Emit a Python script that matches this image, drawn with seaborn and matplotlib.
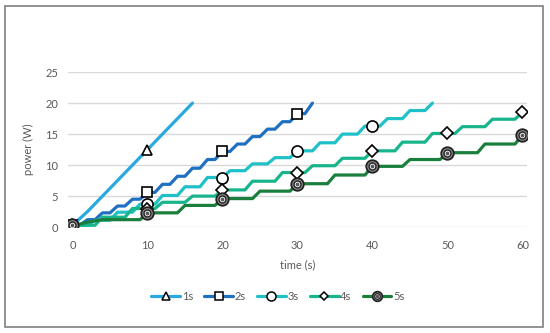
import matplotlib
matplotlib.use("Agg")
import matplotlib.pyplot as plt
import seaborn as sns
import pandas as pd
from matplotlib.lines import Line2D
from matplotlib.legend_handler import HandlerTuple
from matplotlib.patches import Rectangle

# power (W) read per second from the chart, one list per step interval
p_1s = [0.3, 1.4, 2.5, 3.75, 5.0, 6.25, 7.5, 8.75, 10.0, 11.25, 12.5,
        13.75, 15.0, 16.25, 17.5, 18.75, 20.0]
p_2s = [0.3, 0.3, 1.2, 1.2, 2.3, 2.3, 3.4, 3.4, 4.5, 4.5, 5.6, 5.6,
        6.9, 6.9, 8.2, 8.2, 9.5, 9.5, 10.9, 10.9, 12.2, 12.2, 13.4, 13.4,
        14.6, 14.6, 15.8, 15.8, 17.0, 17.0, 18.3, 18.3, 20.0]
p_3s = [0.3, 0.3, 0.3, 1.1, 1.1, 1.1, 2.4, 2.4, 2.4, 3.7, 3.7, 3.7,
        5.1, 5.1, 5.1, 6.5, 6.5, 6.5, 8.0, 8.0, 8.0, 9.1, 9.1, 9.1,
        10.2, 10.2, 10.2, 11.2, 11.2, 11.2, 12.3, 12.3, 12.3, 13.6, 13.6, 13.6,
        15.0, 15.0, 15.0, 16.3, 16.3, 16.3, 17.5, 17.5, 17.5, 18.8, 18.8, 18.8,
        20.0]
p_4s = [0.3, 0.3, 0.3, 0.3, 1.6, 1.6, 1.6, 1.6, 3.0, 3.0, 3.0, 3.0,
        4.0, 4.0, 4.0, 4.0, 5.0, 5.0, 5.0, 5.0, 6.0, 6.0, 6.0, 6.0,
        7.4, 7.4, 7.4, 7.4, 8.8, 8.8, 8.8, 8.8, 9.9, 9.9, 9.9, 9.9,
        11.1, 11.1, 11.1, 11.1, 12.3, 12.3, 12.3, 12.3, 13.7, 13.7, 13.7, 13.7,
        15.1, 15.1, 15.1, 15.1, 16.2, 16.2, 16.2, 16.2, 17.4, 17.4, 17.4, 17.4,
        18.5]
p_5s = [0.3, 0.5, 0.8, 1.0, 1.2, 1.2, 1.2, 1.2, 1.2, 1.2, 2.3, 2.3, 2.3, 2.3, 2.3,
        3.5, 3.5, 3.5, 3.5, 3.5, 4.6, 4.6, 4.6, 4.6, 4.6,
        5.8, 5.8, 5.8, 5.8, 5.8, 7.0, 7.0, 7.0, 7.0, 7.0,
        8.4, 8.4, 8.4, 8.4, 8.4, 9.8, 9.8, 9.8, 9.8, 9.8,
        10.9, 10.9, 10.9, 10.9, 10.9, 12.0, 12.0, 12.0, 12.0, 12.0,
        13.4, 13.4, 13.4, 13.4, 13.4, 14.8]

labels = ["1s", "2s", "3s", "4s", "5s"]
series = [p_1s, p_2s, p_3s, p_4s, p_5s]
colors = ["#2aa8e0", "#2070c2", "#1fc0c8", "#18b48c", "#1a7f3c"]
markers = ["^", "s", "o", "D", "o"]
msizes = [7, 7, 8, 6, 9]

rows = []
for lab, vals in zip(labels, series):
    for t, v in enumerate(vals):
        rows.append({"time": t, "power": v, "series": lab})
df = pd.DataFrame(rows)

sns.set_style("white")
plt.rcParams["font.family"] = ["Lato", "DejaVu Sans"]

fig = plt.figure(figsize=(5.5, 3.33), dpi=100)
ax = fig.add_axes([0.1236, 0.318, 0.8345, 0.4655])

handles = []
for lab, col, mk, ms in zip(labels, colors, markers, msizes):
    d = df[df["series"] == lab]
    if lab == "5s":
        sns.lineplot(data=d, x="time", y="power", ax=ax, color=col, lw=2.3,
                     marker="o", markevery=10, ms=ms, mfc="#8a8a8a", mec="#222222",
                     mew=1.3, errorbar=None, zorder=3)
        sns.lineplot(data=d, x="time", y="power", ax=ax, lw=0, marker="o",
                     markevery=10, ms=5, mfc="white", mec="#222222", mew=1.0,
                     errorbar=None, zorder=4)
        sns.lineplot(data=d, x="time", y="power", ax=ax, lw=0, marker="o",
                     markevery=10, ms=2, mfc="#555555", mec="#555555",
                     errorbar=None, zorder=5)
        h = (Line2D([], [], color=col, lw=2.3, marker="o", ms=7, mfc="#8a8a8a",
                    mec="#222222", mew=1.2),
             Line2D([], [], lw=0, marker="o", ms=4, mfc="white", mec="#222222", mew=0.9),
             Line2D([], [], lw=0, marker="o", ms=1.5, mfc="#555555", mec="#555555"))
    else:
        sns.lineplot(data=d, x="time", y="power", ax=ax, color=col, lw=2.3,
                     marker=mk, markevery=10, ms=ms, mfc="white", mec="black",
                     mew=1.2, errorbar=None, zorder=3)
        h = Line2D([], [], color=col, lw=2.3, marker=mk, ms=ms - 1.5, mfc="white",
                   mec="black", mew=1.1)
    handles.append(h)

ax.set_xlim(-0.6, 60.6)
ax.set_ylim(0, 25)
ax.set_xticks(range(0, 61, 10))
ax.set_yticks(range(0, 26, 5))
ax.grid(axis="y", color="#d9d9d9", lw=1)
ax.grid(axis="x", visible=False)
for s in ax.spines.values():
    s.set_visible(False)
ax.tick_params(axis="both", length=0, labelsize=8, colors="#595959")
ax.tick_params(axis="y", pad=7)
ax.tick_params(axis="x", pad=9)
ax.set_xlabel("time (s)", fontsize=8, color="#595959", labelpad=6)
ax.set_ylabel("power (W)", fontsize=8, color="#595959", labelpad=8)

fig.legend(handles, labels, loc="center", bbox_to_anchor=(0.505, 0.111), ncol=5,
           frameon=False, fontsize=8, labelcolor="#595959", handlelength=2.6,
           handletextpad=0.15, columnspacing=1.0,
           handler_map={tuple: HandlerTuple(ndivide=1, pad=0)})

fig.patches.append(Rectangle((5 / 550, 6 / 333), 538 / 550, 321 / 333,
                             transform=fig.transFigure, fill=False,
                             edgecolor="#7f7f7f", lw=1.2))

fig.savefig("out.png", dpi=100)
